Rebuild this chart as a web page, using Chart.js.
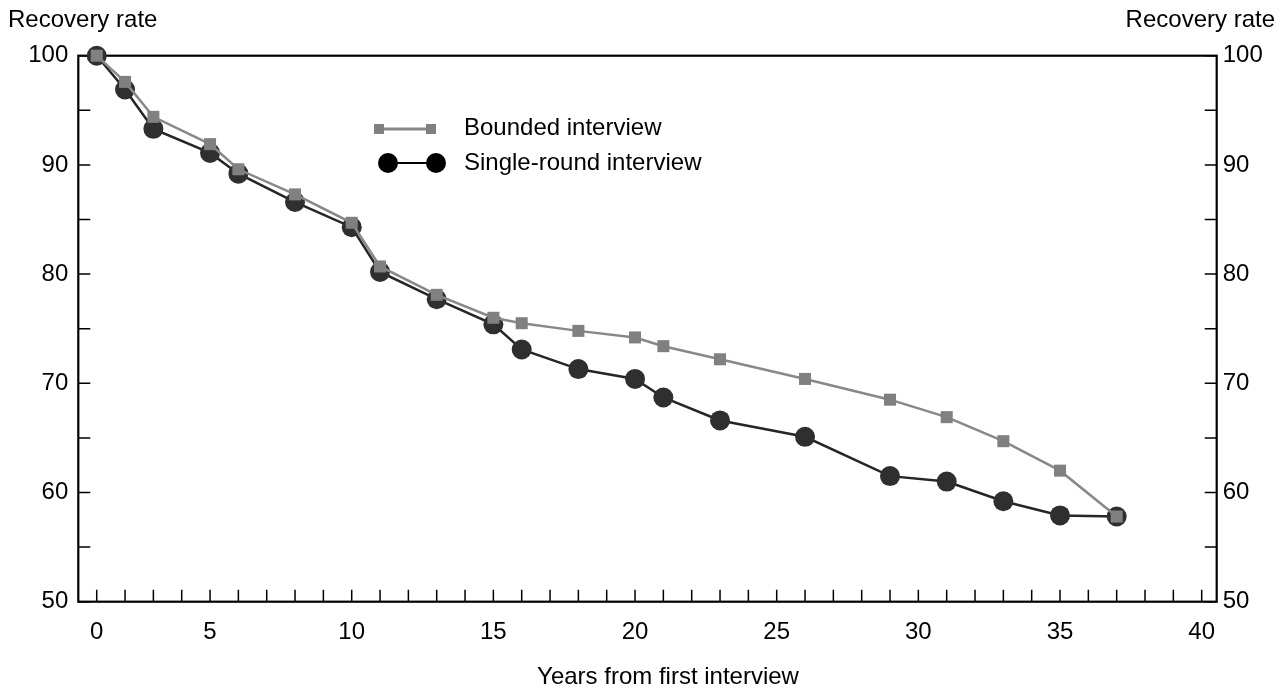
<!DOCTYPE html>
<html><head><meta charset="utf-8">
<script src="https://cdn.jsdelivr.net/npm/chart.js@4.4.0/dist/chart.umd.min.js"></script>
<style>html,body{margin:0;padding:0;background:#fff;overflow:hidden}canvas{display:block}</style>
</head><body>
<canvas id="c" width="1282" height="689" style="width:1282px;height:689px"></canvas>
<script>
// Category positions along the x axis (tick labels shown where divisible by 5)
const xCategories = [0,2,3,4,5,6,7,8,9,10,11,12,13,14,15,16,17,18,19,20,21,22,23,24,25,26,27,28,29,30,31,32,33,34,35,36,37,38,39,40];
const years   = [0,2,3,5,6,8,10,11,13,15,16,18,20,21,23,26,29,31,33,35,37];
const bounded = [100,97.6,94.4,91.9,89.6,87.3,84.7,80.7,78.1,76.0,75.5,74.8,74.2,73.4,72.2,70.4,68.5,66.9,64.7,62.0,57.8];
const single  = [100,96.9,93.3,91.1,89.2,86.6,84.3,80.2,77.7,75.4,73.1,71.3,70.4,68.7,66.6,65.1,61.5,61.0,59.2,57.9,57.8];
const yTicks = [50,60,70,80,90,100];
const yAxisTitle = 'Recovery rate';
const xAxisTitle = 'Years from first interview';
const seriesNames = ['Bounded interview','Single-round interview'];

const FONT = '"Liberation Sans", Arial, sans-serif';
const FS = 24;
const toPts = vals => vals.map((v,i)=>({x: xCategories.indexOf(years[i]), y: v}));

const framePlugin = {
  id:'frame',
  beforeDatasetsDraw(chart){
    const {ctx, chartArea:a, scales} = chart;
    ctx.save();
    ctx.strokeStyle='#000';
    ctx.lineWidth=1.5;
    const TL=12;
    ctx.beginPath();
    scales.x.ticks.forEach(t=>{
      const px=scales.x.getPixelForValue(t.value);
      ctx.moveTo(px,a.bottom); ctx.lineTo(px,a.bottom-TL);
    });
    scales.y.ticks.forEach(t=>{
      const py=scales.y.getPixelForValue(t.value);
      ctx.moveTo(a.left,py); ctx.lineTo(a.left+TL,py);
    });
    scales.y2.ticks.forEach(t=>{
      const py=scales.y2.getPixelForValue(t.value);
      ctx.moveTo(a.right,py); ctx.lineTo(a.right-TL,py);
    });
    ctx.stroke();
    ctx.lineWidth=2.2;
    ctx.strokeRect(a.left,a.top,a.right-a.left,a.bottom-a.top);
    ctx.restore();
  },
  afterDraw(chart){
    const {ctx} = chart;
    ctx.save();
    ctx.fillStyle='#000';
    ctx.font = FS+'px '+FONT;
    ctx.textBaseline='middle';
    ctx.textAlign='left';
    ctx.fillText(yAxisTitle, 8, 20);
    ctx.textAlign='right';
    ctx.fillText(yAxisTitle, 1275, 20);
    ctx.textAlign='center';
    ctx.fillText(xAxisTitle, 668, 677);
    // legend
    const ds = chart.data.datasets;
    ctx.strokeStyle=ds[0].borderColor; ctx.lineWidth=3;
    ctx.beginPath(); ctx.moveTo(379,129); ctx.lineTo(431,129); ctx.stroke();
    ctx.fillStyle=ds[0].pointBackgroundColor;
    ctx.fillRect(374,124,10,10); ctx.fillRect(426,124,10,10);
    ctx.strokeStyle='#000'; ctx.lineWidth=2;
    ctx.beginPath(); ctx.moveTo(388,163); ctx.lineTo(436,163); ctx.stroke();
    ctx.fillStyle='#000';
    ctx.beginPath(); ctx.arc(388,163,10,0,Math.PI*2); ctx.fill();
    ctx.beginPath(); ctx.arc(436,163,10,0,Math.PI*2); ctx.fill();
    ctx.textAlign='left';
    ctx.fillText(seriesNames[0], 464, 128);
    ctx.fillText(seriesNames[1], 464, 163);
    ctx.restore();
  }
};

new Chart(document.getElementById('c'), {
  type:'line',
  data:{
    datasets:[
      {label:seriesNames[0], data:toPts(bounded), borderColor:'#888888', borderWidth:2.5,
       pointStyle:'rect', pointRadius:8.5, pointBackgroundColor:'#808080', pointBorderWidth:0,
       tension:0, clip:false},
      {label:seriesNames[1], data:toPts(single), borderColor:'#252525', borderWidth:2.5,
       pointStyle:'circle', pointRadius:10, pointBackgroundColor:'#2f2f2f', pointBorderWidth:0,
       tension:0, clip:false}
    ]
  },
  options:{
    responsive:false, animation:false, devicePixelRatio:1,
    layout:{padding:{top:55.7,left:0,right:0,bottom:0}},
    plugins:{legend:{display:false}, tooltip:{enabled:false}, title:{display:false}},
    scales:{
      x:{type:'linear', position:'bottom', min:-0.65, max:39.53,
        afterBuildTicks:s=>{ s.ticks = xCategories.map((_,i)=>({value:i})); },
        afterFit:s=>{ s.height = 87.3; },
        grid:{display:false, drawTicks:false}, border:{display:false},
        ticks:{autoSkip:false, maxRotation:0, padding:16, color:'#000', font:{family:FONT,size:FS},
          callback:(v)=>{ const y=xCategories[v]; return (y%5===0)?String(y):''; }}
      },
      y:{type:'linear', position:'left', min:50, max:100,
        afterFit:s=>{ s.width = 78.3; },
        grid:{display:false, drawTicks:false}, border:{display:false},
        ticks:{stepSize:5, padding:10, color:'#000', font:{family:FONT,size:FS},
          callback:(v)=> yTicks.includes(v)?String(v):''}
      },
      y2:{type:'linear', position:'right', min:50, max:100,
        afterFit:s=>{ s.width = 65.3; },
        grid:{display:false, drawTicks:false}, border:{display:false},
        ticks:{stepSize:5, padding:6, color:'#000', font:{family:FONT,size:FS},
          callback:(v)=> yTicks.includes(v)?String(v):''}
      }
    }
  },
  plugins:[framePlugin]
});
</script>
</body></html>
